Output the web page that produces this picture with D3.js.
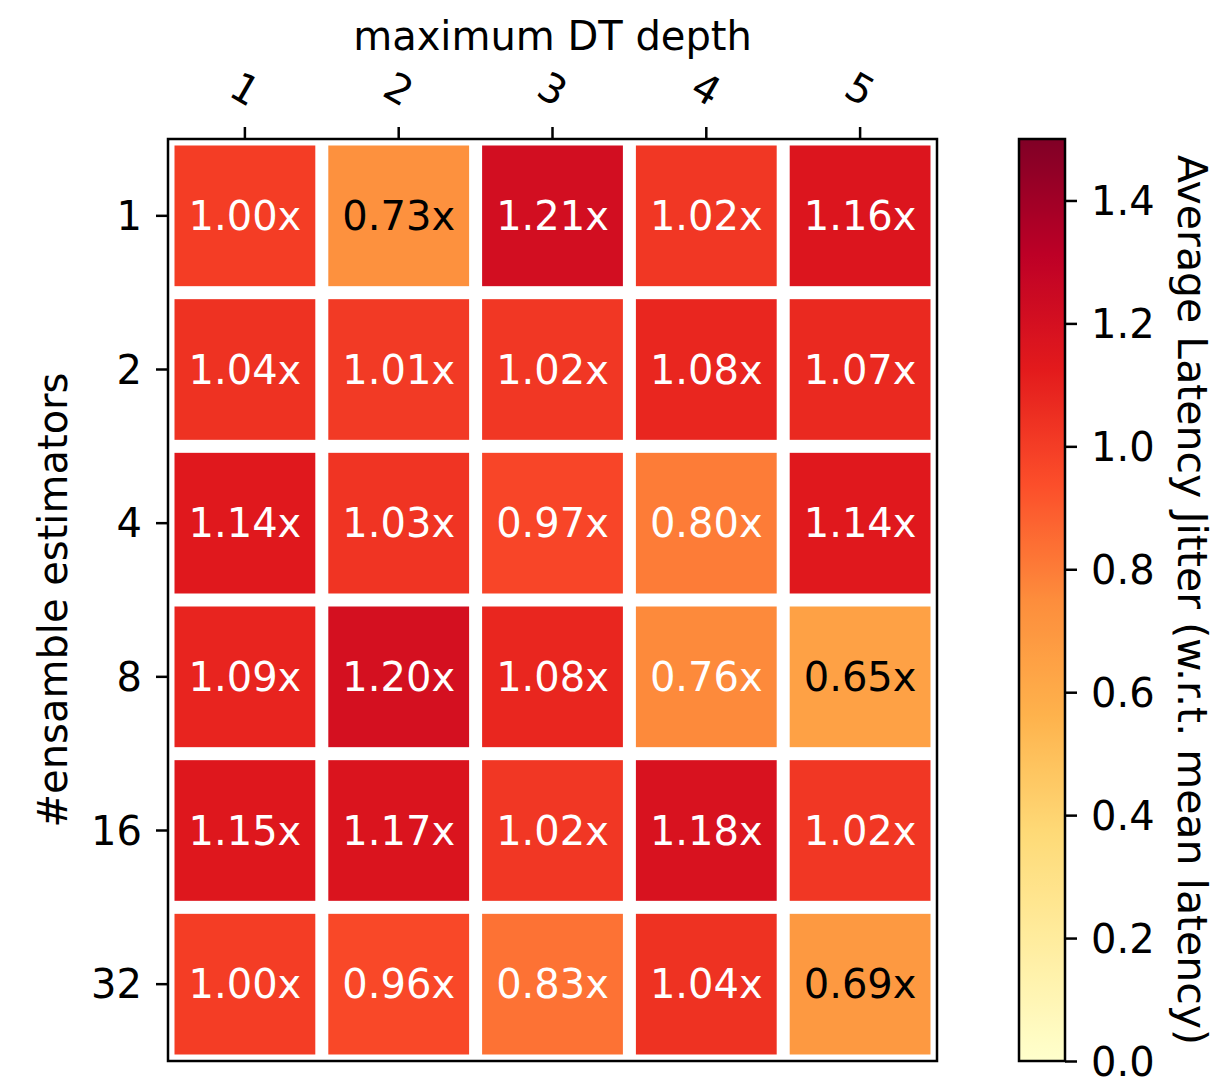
<!DOCTYPE html>
<html>
<head>
<meta charset="utf-8">
<script src="https://cdn.jsdelivr.net/npm/d3@7"></script>
<style>
  body { margin: 0; background: #fff; }
  svg { display: block; font-family: "DejaVu Sans", sans-serif; }
</style>
</head>
<body>
<svg id="chart" width="1215" height="1082"></svg>
<script>
// data
var depths = ["1", "2", "3", "4", "5"];
var estimators = ["1", "2", "4", "8", "16", "32"];
var jitter = [
    [1.00, 0.73, 1.21, 1.02, 1.16],
    [1.04, 1.01, 1.02, 1.08, 1.07],
    [1.14, 1.03, 0.97, 0.80, 1.14],
    [1.09, 1.20, 1.08, 0.76, 0.65],
    [1.15, 1.17, 1.02, 1.18, 1.02],
    [1.00, 0.96, 0.83, 1.04, 0.69]
];
var colorbarTicks = [0.0, 0.2, 0.4, 0.6, 0.8, 1.0, 1.2, 1.4];

(function() {
    var svg = d3.select("#chart");
    var fontSize = "40px";

    // plot box
    var boxL = 168, boxR = 937, boxT = 139, boxB = 1061;
    var gap = 6.5;

    var x = d3.scaleBand().domain(depths).range([boxL, boxR]);
    var y = d3.scaleBand().domain(estimators).range([boxT, boxB]);

    // YlOrRd, linear between the 9 brewer colours like matplotlib does
    var brewer = d3.schemeYlOrRd[9];
    var color = d3.scaleLinear()
        .domain(d3.range(9).map(function(i) { return 1.5 * i / 8; }))
        .range(brewer)
        .interpolate(d3.interpolateRgb)
        .clamp(true);

    var cells = [];
    jitter.forEach(function(row, i) {
        row.forEach(function(v, j) {
            cells.push({ row: estimators[i], col: depths[j], value: v });
        });
    });

    var cellG = svg.append("g");
    cellG.selectAll("rect")
        .data(cells)
        .enter().append("rect")
        .attr("x", function(d) { return x(d.col) + gap; })
        .attr("y", function(d) { return y(d.row) + gap; })
        .attr("width", x.bandwidth() - 2 * gap)
        .attr("height", y.bandwidth() - 2 * gap)
        .attr("fill", function(d) { return color(d.value); });

    cellG.selectAll("text")
        .data(cells)
        .enter().append("text")
        .attr("x", function(d) { return x(d.col) + x.bandwidth() / 2; })
        .attr("y", function(d) { return y(d.row) + y.bandwidth() / 2; })
        .attr("text-anchor", "middle")
        .attr("dominant-baseline", "central")
        .style("font-size", fontSize)
        .attr("fill", function(d) { return d.value > 0.75 ? "#fff" : "#000"; })
        .text(function(d) { return d.value.toFixed(2) + "x"; });

    // frame
    svg.append("rect")
        .attr("x", boxL).attr("y", boxT)
        .attr("width", boxR - boxL).attr("height", boxB - boxT)
        .attr("fill", "none").attr("stroke", "#000").attr("stroke-width", 2.5);

    // top axis
    var xAxis = svg.append("g")
        .attr("transform", "translate(0," + boxT + ")")
        .call(d3.axisTop(x).tickSize(12).tickPadding(0));
    xAxis.select(".domain").remove();
    xAxis.selectAll(".tick line").attr("stroke-width", 2.5);
    xAxis.selectAll(".tick text")
        .attr("y", 0)
        .attr("dy", null)
        .attr("text-anchor", "middle")
        .attr("dominant-baseline", "central")
        .attr("transform", "translate(0,-50) rotate(30)")
        .style("font-size", fontSize)
        .style("font-family", "DejaVu Sans");

    // left axis
    var yAxis = svg.append("g")
        .attr("transform", "translate(" + boxL + ",0)")
        .call(d3.axisLeft(y).tickSize(12).tickPadding(14));
    yAxis.select(".domain").remove();
    yAxis.selectAll(".tick line").attr("stroke-width", 2.5);
    yAxis.selectAll(".tick text")
        .attr("dy", null)
        .attr("dominant-baseline", "central")
        .style("font-size", fontSize)
        .style("font-family", "DejaVu Sans");

    // axis titles
    svg.append("text")
        .attr("x", (boxL + boxR) / 2)
        .attr("y", 50)
        .attr("text-anchor", "middle")
        .style("font-size", fontSize)
        .text("maximum DT depth");

    svg.append("text")
        .attr("transform", "translate(67," + (boxT + boxB) / 2 + ") rotate(-90)")
        .attr("text-anchor", "middle")
        .style("font-size", fontSize)
        .text("#ensamble estimators");

    // colorbar
    var cbLeft = 1019, cbWidth = 46;
    var cScale = d3.scaleLinear().domain([0, 1.5]).range([boxB, boxT]);

    var grad = svg.append("defs").append("linearGradient")
        .attr("id", "cbgrad")
        .attr("x1", 0).attr("y1", 1).attr("x2", 0).attr("y2", 0);
    grad.selectAll("stop")
        .data(d3.range(0, 1.0001, 1 / 64))
        .enter().append("stop")
        .attr("offset", function(t) { return t; })
        .attr("stop-color", function(t) { return color(t * 1.5); });

    svg.append("rect")
        .attr("x", cbLeft).attr("y", boxT)
        .attr("width", cbWidth).attr("height", boxB - boxT)
        .attr("fill", "url(#cbgrad)")
        .attr("stroke", "#000").attr("stroke-width", 2.5);

    var cAxis = svg.append("g")
        .attr("transform", "translate(" + (cbLeft + cbWidth) + ",0)")
        .call(d3.axisRight(cScale).tickValues(colorbarTicks).tickFormat(d3.format(".1f")).tickSize(12).tickPadding(14));
    cAxis.select(".domain").remove();
    cAxis.selectAll(".tick line").attr("stroke-width", 2.5);
    cAxis.selectAll(".tick text")
        .attr("dy", null)
        .attr("dominant-baseline", "central")
        .style("font-size", fontSize)
        .style("font-family", "DejaVu Sans");

    svg.append("text")
        .attr("transform", "translate(1192," + (boxT + boxB) / 2 + ") rotate(90)")
        .attr("text-anchor", "middle")
        .attr("dominant-baseline", "central")
        .style("font-size", "41px")
        .text("Average Latency Jitter (w.r.t. mean latency)");
})();
</script>
</body>
</html>
